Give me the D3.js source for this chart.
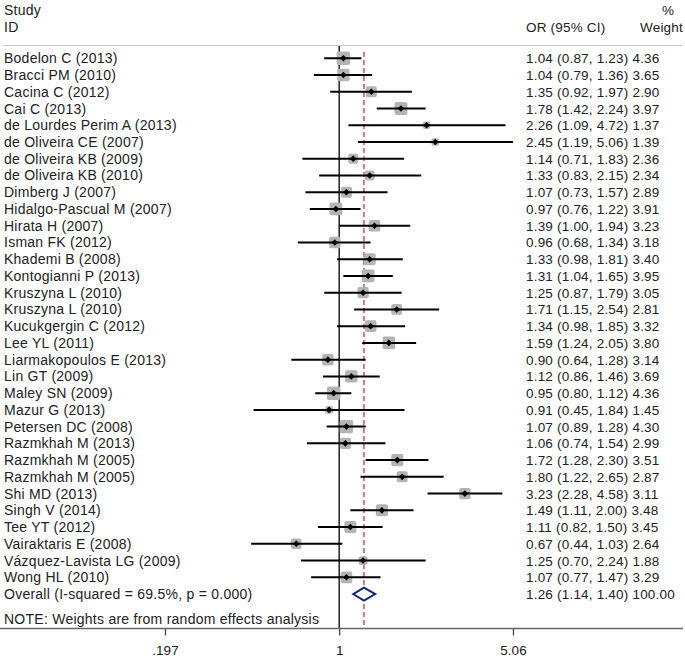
<!DOCTYPE html>
<html><head><meta charset="utf-8">
<script src="https://cdn.jsdelivr.net/npm/d3@7"></script>
<style>body{margin:0;background:#fff;}svg{display:block;}</style>
</head><body>
<script>
const studies = ["Bodelon C (2013)","Bracci PM (2010)","Cacina C (2012)","Cai C (2013)","de Lourdes Perim A (2013)","de Oliveira CE (2007)","de Oliveira KB (2009)","de Oliveira KB (2010)","Dimberg J (2007)","Hidalgo-Pascual M (2007)","Hirata H (2007)","Isman FK (2012)","Khademi B (2008)","Kontogianni P (2013)","Kruszyna L (2010)","Kruszyna L (2010)","Kucukgergin C (2012)","Lee YL (2011)","Liarmakopoulos E (2013)","Lin GT (2009)","Maley SN (2009)","Mazur G (2013)","Petersen DC (2008)","Razmkhah M (2013)","Razmkhah M (2005)","Razmkhah M (2005)","Shi MD (2013)","Singh V (2014)","Tee YT (2012)","Vairaktaris E (2008)","Vázquez-Lavista LG (2009)","Wong HL (2010)"];
const or = [1.04,1.04,1.35,1.78,2.26,2.45,1.14,1.33,1.07,0.97,1.39,0.96,1.33,1.31,1.25,1.71,1.34,1.59,0.90,1.12,0.95,0.91,1.07,1.06,1.72,1.80,3.23,1.49,1.11,0.67,1.25,1.07];
const lo = [0.87,0.79,0.92,1.42,1.09,1.19,0.71,0.83,0.73,0.76,1.00,0.68,0.98,1.04,0.87,1.15,0.98,1.24,0.64,0.86,0.80,0.45,0.89,0.74,1.28,1.22,2.28,1.11,0.82,0.44,0.70,0.77];
const hi = [1.23,1.36,1.97,2.24,4.72,5.06,1.83,2.15,1.57,1.22,1.94,1.34,1.81,1.65,1.79,2.54,1.85,2.05,1.28,1.46,1.12,1.84,1.28,1.54,2.30,2.65,4.58,2.00,1.50,1.03,2.24,1.47];
const weight = ["4.36","3.65","2.90","3.97","1.37","1.39","2.36","2.34","2.89","3.91","3.23","3.18","3.40","3.95","3.05","2.81","3.32","3.80","3.14","3.69","4.36","1.45","4.30","2.99","3.51","2.87","3.11","3.48","3.45","2.64","1.88","3.29"];
const overall = {label:"Overall  (I-squared = 69.5%, p = 0.000)", or:1.26, lo:1.14, hi:1.40, weight:"100.00"};
const note = "NOTE: Weights are from random effects analysis";
const tickValues = [0.197, 1, 5.06];
const tickLabels = [".197", "1", "5.06"];

const W = 685, H = 660;
const svg = d3.select("body").append("svg").attr("width", W).attr("height", H)
  .style("font-family", "'Liberation Sans', Arial, sans-serif");

const x = d3.scaleLog().domain([0.197, 5.06]).range([165, 513]);
const y = d3.scaleLinear().domain([0, 31]).range([58.3, 577.3]);
const yOverall = y(32);
const axisY = 628.5;
const txtColor = "#222";
const fsL = 14, lsL = 0.25;   // left column
const fsR = 13.5, lsR = 0.2;  // right column

function ltext(xx, yy, t) {
  return svg.append("text").attr("x", xx).attr("y", yy).attr("font-size", fsL)
    .attr("letter-spacing", lsL).attr("fill", txtColor).text(t);
}
function rtext(xx, yy, t) {
  return svg.append("text").attr("x", xx).attr("y", yy).attr("font-size", fsR)
    .attr("letter-spacing", lsR).attr("fill", txtColor).text(t);
}

// header
ltext(4, 15, "Study");
ltext(4, 32, "ID");
rtext(526, 32, "OR (95% CI)");
rtext(662, 15, "%");
rtext(683, 32, "Weight").attr("text-anchor", "end");
svg.append("line").attr("x1", 3).attr("x2", 682).attr("y1", 45.5).attr("y2", 45.5).attr("stroke", "#c8c8c8").attr("stroke-width", 1.2);

// null line
svg.append("line").attr("x1", x(1)).attr("x2", x(1)).attr("y1", 46).attr("y2", axisY)
  .attr("stroke", "#000").attr("stroke-width", 1.3);
// overall dashed
svg.append("line").attr("x1", x(overall.or)).attr("x2", x(overall.or)).attr("y1", 52).attr("y2", axisY)
  .attr("stroke", "#a0303c").attr("stroke-width", 1.2).attr("stroke-dasharray", "5,3");

const wScale = d3.scaleSqrt().domain([0, 4.36]).range([0, 13.5]);

studies.forEach((s, i) => {
  const yy = y(i);
  ltext(4, yy + 5, s);
  const sz = wScale(+weight[i]);
  svg.append("rect").attr("x", x(or[i]) - sz / 2).attr("y", yy - sz / 2).attr("width", sz).attr("height", sz)
    .attr("rx", 2).attr("fill", "#b4b4b4");
  svg.append("line").attr("x1", x(lo[i])).attr("x2", x(hi[i])).attr("y1", yy).attr("y2", yy)
    .attr("stroke", "#000").attr("stroke-width", 2);
  const cx = x(or[i]), d = 3.3;
  svg.append("path").attr("d", `M${cx - d},${yy}L${cx},${yy - d}L${cx + d},${yy}L${cx},${yy + d}Z`).attr("fill", "#000");
  rtext(526, yy + 5, `${or[i].toFixed(2)} (${lo[i].toFixed(2)}, ${hi[i].toFixed(2)}) ${weight[i]}`);
});

// overall
ltext(4, yOverall + 5, overall.label);
svg.append("path").attr("d",
  `M${x(overall.lo)},${yOverall}L${x(overall.or)},${yOverall - 6.5}L${x(overall.hi)},${yOverall}L${x(overall.or)},${yOverall + 6.5}Z`)
  .attr("fill", "#fff").attr("stroke", "#1a237e").attr("stroke-width", 2);
rtext(526, yOverall + 5, `${overall.or.toFixed(2)} (${overall.lo.toFixed(2)}, ${overall.hi.toFixed(2)}) ${overall.weight}`);

ltext(4, 624, note);

// axis
const axis = d3.axisBottom(x).tickValues(tickValues).tickFormat((d, i) => tickLabels[i]).tickSize(7).tickSizeOuter(0);
const g = svg.append("g").attr("transform", `translate(0,${axisY})`).call(axis);
g.select(".domain").remove();
g.selectAll(".tick line").attr("stroke", "#444").attr("stroke-width", 1.3);
g.selectAll(".tick text").attr("font-size", fsR).attr("fill", txtColor).attr("dy", "0.71em").attr("y", 17)
  .style("font-family", "'Liberation Sans', Arial, sans-serif");
svg.append("line").attr("x1", 0).attr("x2", 683).attr("y1", axisY).attr("y2", axisY).attr("stroke", "#666").attr("stroke-width", 1.6);
</script>
</body></html>
